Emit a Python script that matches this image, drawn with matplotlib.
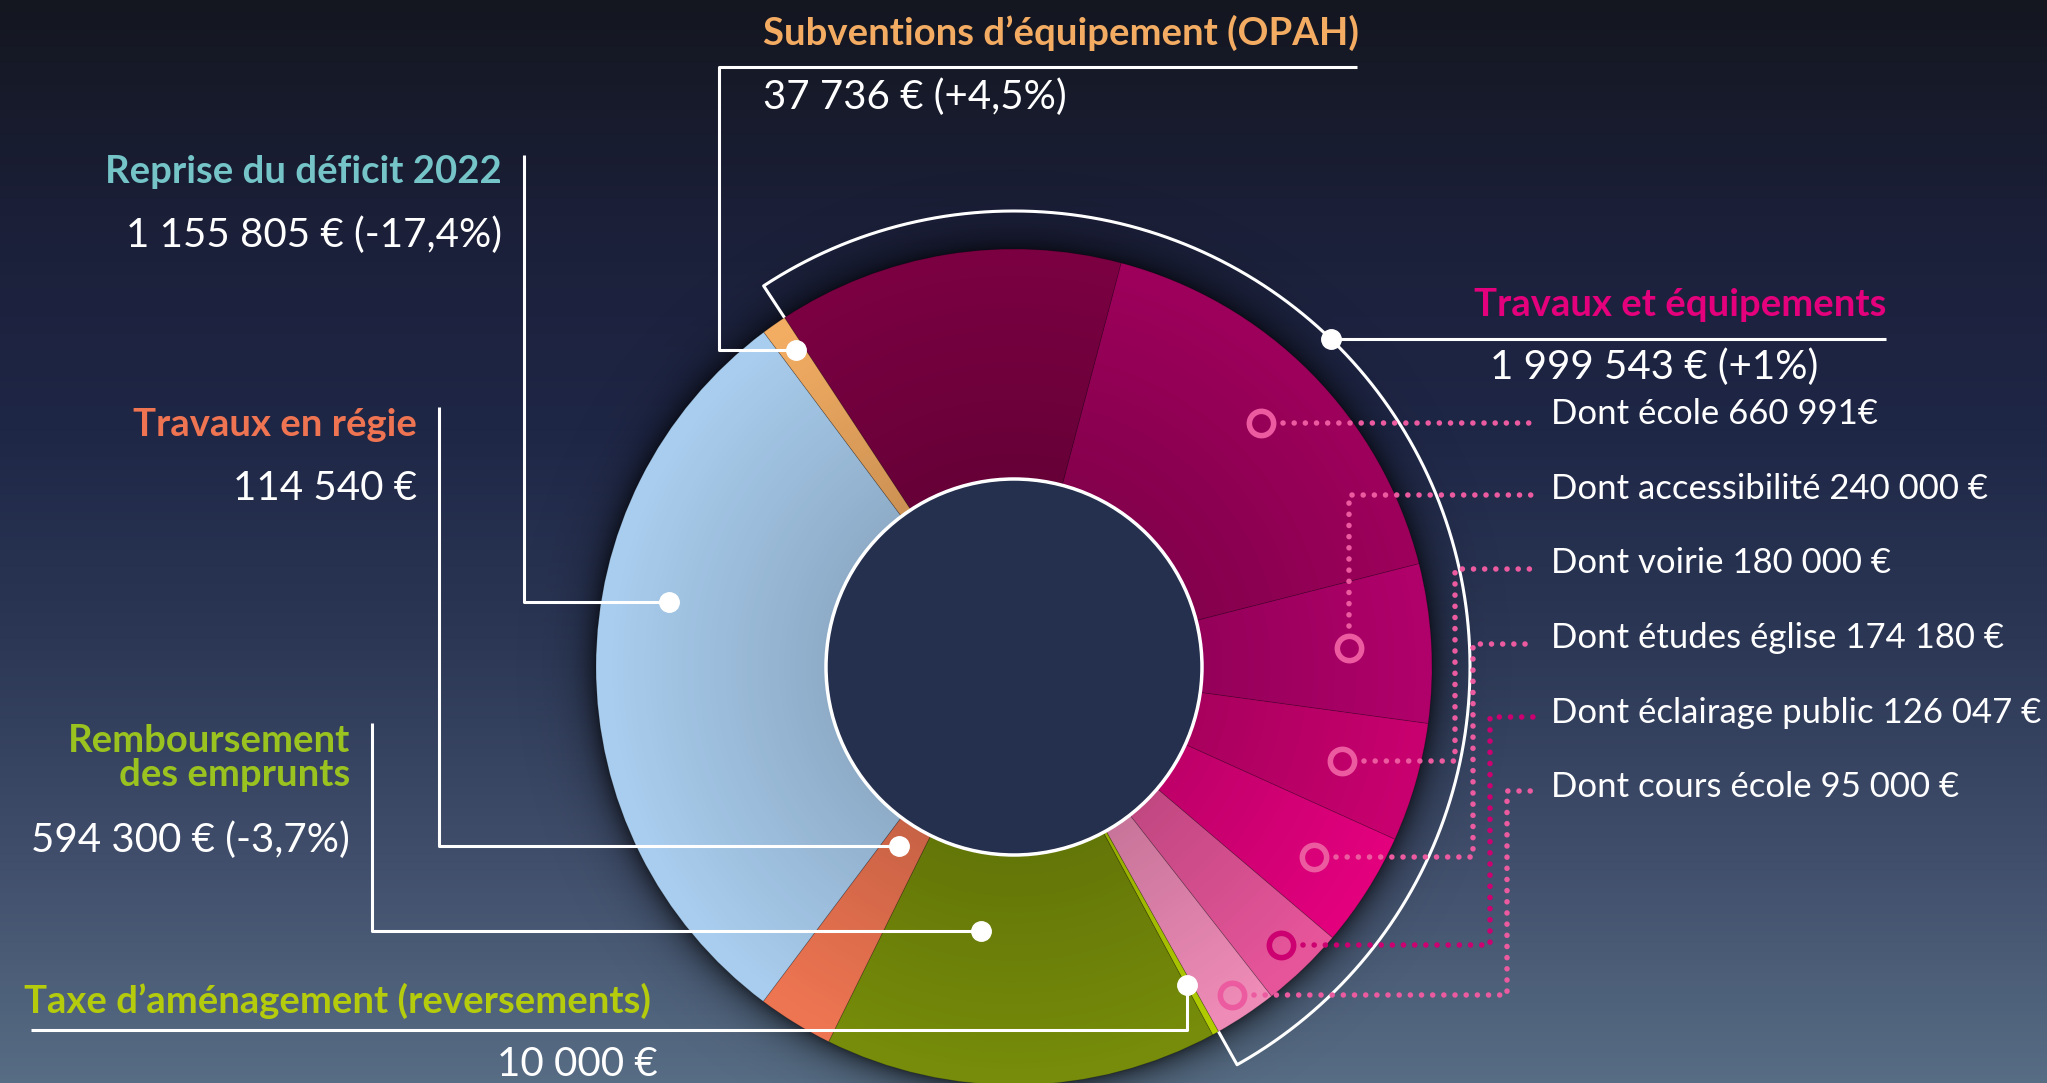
import numpy as np
import matplotlib.pyplot as plt
from matplotlib.colors import LinearSegmentedColormap
from matplotlib.patches import Circle

W, H = 2047, 1083

# postes, dans l'ordre du cercle (sens horaire depuis les travaux)
postes = ["Travaux et équipements", "Taxe d’aménagement (reversements)",
          "Remboursement\ndes emprunts", "Travaux en régie",
          "Reprise du déficit 2022", "Subventions d’équipement (OPAH)"]
montants = [1999543, 10000, 594300, 114540, 1155805, 37736]
montants_txt = ["1 999 543 € (+1%)", "10 000 €", "594 300 € (-3,7%)", "114 540 €",
                "1 155 805 € (-17,4%)", "37 736 € (+4,5%)"]
couleurs = ["#e4007c", "#b2cc00", "#768c0a", "#ee7552", "#a9cdee", "#f3ad63"]
couleurs_titre = ["#e4007c", "#b4cc0c", "#9bc31f", "#ef7452", "#74c4c8", "#f4ac63"]

# detail des travaux et equipements
detail = ["école", "accessibilité", "voirie", "études église", "éclairage public", "cours école"]
detail_montants = [660991, 240000, 180000, 174180, 126047, 95000]
detail_txt = ["Dont école 660 991€", "Dont accessibilité 240 000 €", "Dont voirie 180 000 €",
              "Dont études église 174 180 €", "Dont éclairage public 126 047 €",
              "Dont cours école 95 000 €"]
detail_couleurs = ["#9d005b", "#b0006a", "#c8006f", "#e2007d", "#e6559a", "#ee8bb7"]
reste_couleur = "#7a0042"

reste = montants[0] - sum(detail_montants)
valeurs_pie = [reste] + detail_montants + montants[1:]
couleurs_pie = [reste_couleur] + detail_couleurs + couleurs[1:]

plt.rcParams['font.family'] = ['Lato', 'DejaVu Sans']

fig = plt.figure(figsize=(W / 100, H / 100), dpi=100)
ax = fig.add_axes([0, 0, 1, 1])

def Y(y):
    # coordonnees "image" (y vers le bas) -> axes
    return H - y

# fond degrade
fond = LinearSegmentedColormap.from_list(
    "fond", ["#141720", "#1b1f38", "#1f2747", "#2c3856", "#414f6c", "#576d84"])
ax.imshow(np.linspace(0, 1, 256).reshape(-1, 1), cmap=fond, extent=(0, W, 0, H),
          aspect='auto', zorder=0)

cx, cy = 1014, Y(667)
R, r0 = 418, 188

# ombre autour de l'anneau
n = 600
gx = np.linspace(cx - 500, cx + 500, n)
gy = np.linspace(cy - 500, cy + 500, n)
GX, GY = np.meshgrid(gx, gy)
D = np.hypot(GX - cx, GY - cy)
ombre = np.zeros((n, n, 4))
ombre[..., 3] = np.clip(0.6 * np.exp(-(D - R) / 16), 0, 0.6)
ax.imshow(ombre, origin='lower', extent=(cx - 500, cx + 500, cy - 500, cy + 500),
          aspect='auto', zorder=1)

wedges, _ = ax.pie(valeurs_pie, colors=couleurs_pie, startangle=123.3, counterclock=False,
                   radius=R, center=(cx, cy), frame=True,
                   wedgeprops=dict(width=R - r0, linewidth=0.6, edgecolor=(0, 0, 0, 0.2)))
for w in wedges:
    w.set_zorder(2)

# assombrissement vers l'interieur de l'anneau
nuance = np.zeros((n, n, 4))
nuance[..., 3] = 0.16 * np.clip(1 - (D - r0) / 220, 0, 1)
im = ax.imshow(nuance, origin='lower', extent=(cx - 500, cx + 500, cy - 500, cy + 500),
               aspect='auto', zorder=3)
im.set_clip_path(Circle((cx, cy), R, transform=ax.transData))

ax.add_patch(Circle((cx, cy), r0, facecolor="#25304e", edgecolor="white", lw=2.5, zorder=4))

def point(w, frac, rayon):
    a = np.radians(w.theta1 + frac * (w.theta2 - w.theta1))
    return cx + rayon * np.cos(a), cy + rayon * np.sin(a)

blanc = dict(color="white", lw=2.2, zorder=5, solid_capstyle='butt')
pt = dict(marker='o', ms=14, color="white", zorder=6)

# arc englobant les travaux et equipements
t_haut = wedges[0].theta2
t_bas = wedges[len(detail)].theta1
a = np.radians(np.linspace(t_haut, t_bas, 300))
ax_x = np.concatenate([[cx + R * np.cos(a[0])], cx + 456 * np.cos(a), [cx + R * np.cos(a[-1])]])
ax_y = np.concatenate([[cy + R * np.sin(a[0])], cy + 456 * np.sin(a), [cy + R * np.sin(a[-1])]])
ax.plot(ax_x, ax_y, **blanc)

at = np.radians(t_bas + 0.58 * (t_haut - t_bas))
px, py = cx + 456 * np.cos(at), cy + 456 * np.sin(at)
ax.plot([px, 1886], [py, py], **blanc)
ax.plot(px, py, **pt)

ix = len(detail) + 1  # index du premier poste hors travaux dans le pie
w_taxe, w_remb, w_regie, w_rep, w_sub = wedges[ix:ix + 5]

# Subventions
px, py = point(w_sub, 0.35, 385)
ax.plot([px, 719, 719, 1357], [py, py, Y(67), Y(67)], **blanc)
ax.plot(px, py, **pt)
# Reprise
px, py = point(w_rep, 0.40, 351)
ax.plot([px, 524, 524], [py, py, Y(155)], **blanc)
ax.plot(px, py, **pt)
# Travaux en regie
px, py = point(w_regie, 0.39, 213)
ax.plot([px, 439, 439], [py, py, Y(407)], **blanc)
ax.plot(px, py, **pt)
# Remboursement
px, py = point(w_remb, 0.35, 266)
ax.plot([px, 372, 372], [py, py, Y(723)], **blanc)
ax.plot(px, py, **pt)
# Taxe
px, py = point(w_taxe, 0.2, 362)
ax.plot([px, px, 31], [py, Y(1030), Y(1030)], **blanc)
ax.plot(px, py, **pt)

titre = dict(fontsize=27.5, fontweight='bold', va='center', zorder=6)
valeur = dict(fontsize=29, fontweight='normal', color="white", va='center', zorder=6)

ax.text(763, Y(33), postes[5], color=couleurs_titre[5], ha='left', **titre)
ax.text(763, Y(97), montants_txt[5], ha='left', **valeur)
ax.text(502, Y(172), postes[4], color=couleurs_titre[4], ha='right', **titre)
ax.text(502, Y(235), montants_txt[4], ha='right', **valeur)
ax.text(417, Y(425), postes[3], color=couleurs_titre[3], ha='right', **titre)
ax.text(417, Y(488), montants_txt[3], ha='right', **valeur)
ax.text(350, Y(758), postes[2], color=couleurs_titre[2], ha='right', linespacing=1.0, **titre)
ax.text(350, Y(840), montants_txt[2], ha='right', **valeur)
ax.text(24, Y(1001), postes[1], color=couleurs_titre[1], ha='left', **titre)
ax.text(658, Y(1064), montants_txt[1], ha='right', **valeur)
ax.text(1886, Y(305), postes[0], color=couleurs_titre[0], ha='right', **titre)
ax.text(1490, Y(367), montants_txt[0], ha='left', **valeur)

# detail : anneaux et pointilles
rayons = [347, 336, 341, 355, 385, 394]
coudes = [None, 'v', 1455, 1473, 1490, 1507]
lignes_y = [None, 495, 569, 644, 717, 791]
textes_y = [414, 489, 563, 638, 713, 787]
teinte = ["#ec5aa0", "#ec5aa0", "#ec5aa0", "#ec5aa0", "#cc0070", "#ec5aa0"]
for i in range(len(detail)):
    mx, my = point(wedges[i + 1], 0.5, rayons[i])
    c = teinte[i]
    if coudes[i] is None:
        xs, ys = [mx + 22, 1536], [my, my]
    elif coudes[i] == 'v':
        xs, ys = [mx, mx, 1536], [my + 22, Y(lignes_y[i]), Y(lignes_y[i])]
    else:
        ex = coudes[i]
        xs, ys = [mx + 22, ex, ex, 1536], [my, my, Y(lignes_y[i]), Y(lignes_y[i])]
    ax.plot(xs, ys, color=c, lw=4, linestyle=(0, (0.01, 2.0)), dash_capstyle='round', zorder=5)
    ax.plot(mx, my, marker='o', ms=17.5, mfc='none', mec=c, mew=4, zorder=6)
    ax.text(1551, Y(textes_y[i]), detail_txt[i], fontsize=25, fontweight='normal',
            color="white", va='center', ha='left', zorder=6)

ax.set_xlim(0, W)
ax.set_ylim(0, H)
ax.axis('off')

plt.savefig("out.png", dpi=100)
